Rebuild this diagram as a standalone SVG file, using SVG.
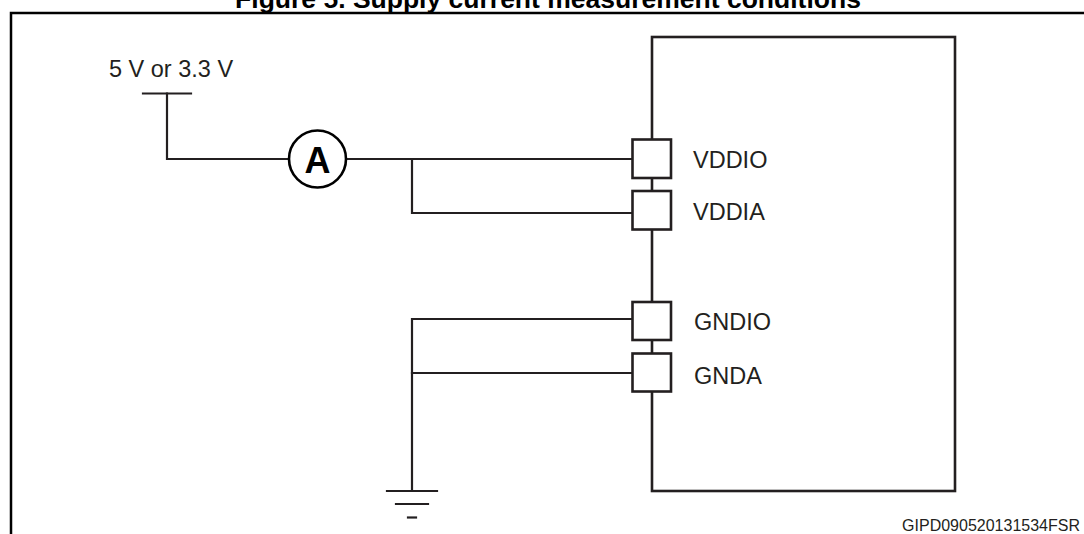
<svg xmlns="http://www.w3.org/2000/svg" width="1084" height="534" viewBox="0 0 1084 534">
<style>
.w{fill:none;stroke:#231f20;stroke-width:2.2;stroke-linecap:square}
.pin{fill:#fff;stroke:#231f20;stroke-width:2.6}
.t{font-family:"Liberation Sans",Arial,sans-serif;font-size:23.5px;fill:#231f20}
</style>
<rect width="1084" height="534" fill="#fff"/>
<text x="548" y="8" text-anchor="middle" font-family="Liberation Sans, Arial, sans-serif" font-size="26.5" font-weight="bold" fill="#000">Figure 5. Supply current measurement conditions</text>
<path d="M11,534 V13 H1084" fill="none" stroke="#000" stroke-width="2.5"/>
<g id="connectors">
<path class="w" d="M143,93.5 H191"/>
<path class="w" d="M167,93.5 V159 H289"/>
<path class="w" d="M346,159 H632"/>
<path class="w" d="M412,159 V213 H632"/>
<path class="w" d="M632,319 H412 V491"/>
<path class="w" d="M412,373 H632"/>
<path class="w" d="M387,491 H437"/>
<path class="w" d="M396,504 H428"/>
<path class="w" d="M408,517.5 H416"/>
</g>
<g id="supply"><text class="t" x="109" y="77">5 V or 3.3 V</text></g>
<g id="ammeter">
<circle cx="317.5" cy="159" r="28.5" fill="#fff" stroke="#000" stroke-width="2.6"/>
<text x="317.5" y="172.5" text-anchor="middle" font-family="Liberation Sans, Arial, sans-serif" font-size="36" font-weight="bold" fill="#000">A</text>
</g>
<g id="ic">
<rect x="652" y="37" width="303" height="454" fill="none" stroke="#231f20" stroke-width="2.6"/>
</g>
<g id="vddio"><rect class="pin" x="632.5" y="139.5" width="38.5" height="38.5"/><text class="t" x="693" y="168">VDDIO</text></g>
<g id="vddia"><rect class="pin" x="632.5" y="191" width="38.5" height="38.5"/><text class="t" x="693" y="220">VDDIA</text></g>
<g id="gndio"><rect class="pin" x="632.5" y="302" width="38.5" height="38"/><text class="t" x="694" y="330">GNDIO</text></g>
<g id="gnda"><rect class="pin" x="632.5" y="353.5" width="38.5" height="38"/><text class="t" x="694" y="384">GNDA</text></g>
<text x="1080" y="531" text-anchor="end" font-family="Liberation Sans, Arial, sans-serif" font-size="16" fill="#231f20">GIPD090520131534FSR</text>
</svg>
